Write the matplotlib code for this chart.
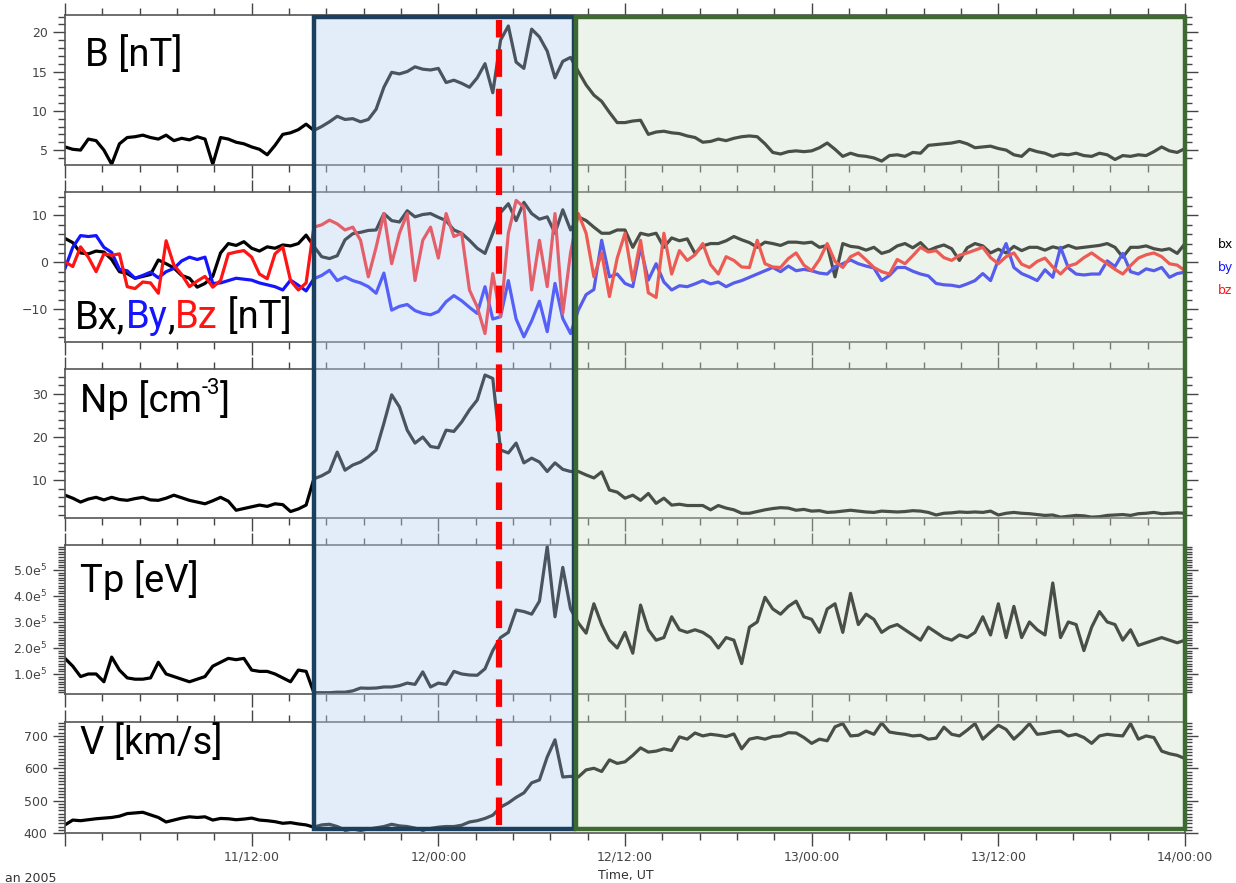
import datetime as dt
import numpy as np
import matplotlib
matplotlib.use("Agg")
import matplotlib.pyplot as plt
import matplotlib.dates as mdates
import matplotlib.ticker as mticker
from matplotlib.patches import Rectangle
from matplotlib.lines import Line2D
from matplotlib.transforms import blended_transform_factory

# hours after 2005-01-11 00:00 UT, 30 min cadence
hours = np.arange(0, 72.5, 0.5)

b_mag = [5.4, 5.1, 5.0, 6.4, 6.2, 5.0, 3.2, 5.8, 6.6, 6.7, 6.9, 6.6,
         6.4, 6.9, 6.2, 6.5, 6.3, 6.7, 6.4, 3.2, 6.6, 6.4, 6.0, 5.8,
         5.4, 5.1, 4.4, 5.6, 7.0, 7.2, 7.6, 8.3, 7.5, 8.0, 8.6, 9.3,
         8.9, 9.0, 8.6, 8.9, 10.2, 13.0, 14.9, 14.7, 15.0, 15.6, 15.3, 15.2,
         15.4, 13.6, 13.9, 13.5, 13.0, 14.2, 16.0, 12.3, 19.0, 20.8, 16.2, 15.4,
         20.4, 19.4, 17.6, 14.2, 16.3, 16.8, 15.0, 13.3, 12.0, 11.2, 9.8, 8.5,
         8.5, 8.7, 8.8, 7.0, 7.3, 7.4, 7.2, 7.1, 6.8, 6.6, 6.0, 6.1,
         6.4, 6.2, 6.5, 6.7, 6.8, 6.7, 5.8, 4.7, 4.5, 4.8, 4.9, 4.8,
         4.9, 5.3, 5.9, 5.1, 4.2, 4.6, 4.3, 4.2, 4.0, 3.6, 4.3, 4.4,
         4.2, 4.7, 4.6, 5.6, 5.7, 5.8, 5.9, 6.1, 5.8, 5.3, 5.4, 5.5,
         5.2, 5.0, 4.4, 4.2, 5.1, 4.8, 4.6, 4.2, 4.5, 4.4, 4.6, 4.3,
         4.2, 4.6, 4.4, 3.8, 4.3, 4.2, 4.4, 4.3, 4.8, 5.4, 4.9, 4.7,
         5.2]

bx = [5.1, 4.2, 2.0, 1.8, 2.4, 2.2, 0.6, -2.0, -2.4, -3.4, -3.0, -2.6,
      0.5, -0.3, -1.2, -2.8, -3.4, -5.3, -4.5, -3.0, 2.0, 4.0, 3.6, 4.4,
      3.0, 2.4, 3.3, 3.0, 3.7, 3.5, 4.0, 5.8, 3.4, 1.2, 0.8, 1.4,
      4.8, 6.1, 6.4, 6.8, 6.9, 10.4, 8.9, 8.6, 11.0, 9.7, 10.2, 10.4,
      9.6, 8.9, 6.9, 6.2, 4.7, 3.0, 1.9, 6.2, 10.6, 12.5, 8.9, 12.8,
      10.4, 9.2, 9.7, 6.2, 11.2, 6.9, 9.7, 8.9, 7.5, 6.2, 6.2, 6.9,
      6.9, 3.2, 6.2, 5.8, 6.2, 3.2, 5.2, 4.6, 5.0, 1.9, 3.5, 4.0,
      4.0, 4.6, 5.5, 4.8, 4.2, 3.2, 4.3, 4.0, 3.6, 4.3, 4.3, 4.1,
      4.3, 3.2, 3.6, -3.1, 4.0, 3.4, 3.2, 2.6, 3.2, 1.9, 2.4, 3.5,
      4.0, 3.1, 4.2, 2.5, 3.2, 3.7, 2.9, 0.4, 3.1, 4.0, 3.5, 2.0,
      2.8, 2.0, 3.4, 2.5, 3.2, 3.2, 2.6, 3.3, 2.9, 3.6, 3.0, 3.2,
      3.4, 3.6, 4.0, 3.2, 1.1, 3.2, 3.2, 3.5, 2.9, 2.6, 2.9, 1.9,
      4.0]

by = [-1.3, 3.2, 5.7, 5.5, 5.7, 3.2, 2.1, -1.5, -1.8, -3.4, -2.8, -2.1,
      -3.3, -2.0, -1.3, 0.3, 1.1, 0.6, 1.1, -4.5, -4.4, -3.9, -3.4, -3.6,
      -3.8, -4.4, -4.8, -5.2, -5.9, -3.8, -4.9, -6.1, -3.5, -2.8, -1.7, -3.9,
      -3.1, -3.9, -4.4, -5.2, -6.6, -2.3, -10.2, -9.4, -9.0, -10.3, -10.9, -11.2,
      -10.5, -8.4, -7.1, -8.2, -9.6, -10.9, -5.2, -12.1, -11.6, -3.9, -12.1, -15.9,
      -12.5, -8.3, -14.8, -4.5, -12.0, -15.2, -10.2, -6.9, -5.8, 4.7, -3.1, -2.5,
      -4.5, -5.2, 3.2, -3.8, -0.3, -4.2, -5.9, -5.0, -5.2, -4.6, -3.9, -4.6,
      -4.2, -5.2, -4.4, -3.9, -3.2, -2.5, -1.8, -1.1, -2.0, -0.8, -1.8, -1.5,
      -1.8, -2.3, -2.5, -0.9, -0.3, 0.5, -0.3, -0.8, -1.2, -3.9, -2.8, -1.1,
      -1.1, -1.9, -2.5, -2.9, -4.5, -4.8, -4.9, -5.2, -4.6, -3.9, -2.4, -3.9,
      0.5, 4.0, -1.1, -2.4, -3.1, -3.9, -1.6, -3.2, 3.2, -1.2, -2.5, -2.7,
      -2.5, -2.5, 0.3, -0.9, 1.9, -2.0, -2.5, -1.4, -1.8, -1.1, -3.2, -2.4,
      -2.1]

bz = [0.1, -0.9, 3.3, 1.1, -2.0, 1.8, 1.5, 1.8, -5.2, -5.6, -4.2, -4.4,
      -6.6, 4.6, -0.6, -2.6, -5.2, -4.0, -3.0, -5.3, -3.9, 1.8, 2.2, 2.5,
      1.1, -2.5, -3.5, 1.8, 3.3, -3.9, -5.9, -4.4, 7.5, 8.0, 9.0, 8.2,
      6.9, 7.5, 4.7, -3.1, 3.2, 10.4, -0.3, 6.2, 10.4, -3.9, 4.7, 7.5,
      0.9, 10.4, 5.5, 6.2, -5.9, -9.5, -15.2, -2.4, -11.6, 6.2, 13.2, 11.8,
      -5.9, 4.7, -5.2, 10.4, -10.9, 2.0, 10.4, 6.2, -3.1, 2.0, -7.3, 0.9,
      6.2, -3.9, 4.7, -6.5, -7.5, 6.2, -2.5, 2.5, 0.4, 1.6, 4.0, -0.5,
      -2.5, 1.2, 0.4, -1.0, -1.1, 4.7, -0.3, -1.0, -1.1, 0.8, 2.0, -0.6,
      -1.8, 0.6, 4.0, 0.2, -1.1, 1.2, 2.0, 0.5, -1.1, -2.0, -2.5, 0.6,
      -0.3, 1.4, 3.2, 2.2, 2.5, 1.0, 0.4, 1.5, 2.0, 2.6, 3.2, 1.0,
      -0.3, 1.2, 2.0, -0.4, -1.1, 0.2, 0.9, -1.0, -2.5, -0.8, -0.3, 1.0,
      2.0, 0.8, -0.3, -1.5, -2.5, -0.7, 0.9, 1.6, 2.0, 1.2, -0.3, -0.6,
      -1.8]

np_dens = [6.5, 5.8, 4.9, 5.6, 6.0, 5.4, 6.0, 5.5, 5.3, 5.7, 6.0, 5.4,
           5.3, 5.8, 6.5, 5.9, 5.3, 4.9, 4.5, 5.2, 6.0, 5.1, 3.0, 3.4,
           3.8, 4.2, 3.9, 4.5, 4.3, 2.7, 3.3, 4.2, 10.3, 11.0, 12.0, 16.5,
           12.3, 13.5, 14.2, 15.4, 17.0, 23.2, 29.8, 27.0, 21.6, 18.6, 20.0, 17.8,
           17.5, 21.6, 21.3, 23.5, 26.3, 28.6, 34.4, 33.6, 17.0, 16.3, 18.6, 14.0,
           15.1, 14.2, 12.0, 14.0, 12.5, 12.0, 12.0, 11.2, 10.5, 11.9, 7.7, 7.2,
           5.8, 6.5, 5.3, 6.9, 4.6, 5.8, 4.2, 4.4, 4.1, 4.1, 4.1, 3.1,
           4.1, 3.5, 3.1, 2.3, 2.3, 2.7, 3.1, 3.4, 3.6, 3.5, 3.0, 3.2,
           2.8, 2.9, 2.5, 2.6, 2.8, 3.0, 2.8, 2.6, 2.5, 2.8, 2.7, 2.6,
           2.7, 2.9, 2.8, 2.5, 1.9, 2.3, 2.4, 2.6, 2.5, 2.6, 2.5, 2.8,
           1.9, 2.3, 2.5, 2.3, 2.2, 2.0, 1.8, 1.9, 1.4, 1.6, 1.8, 1.7,
           1.4, 1.5, 1.8, 1.9, 2.0, 1.8, 2.2, 2.3, 2.5, 2.2, 2.3, 2.4,
           2.3]

# proton temperature in units of 1e5
tp_1e5 = [1.6, 1.3, 0.9, 1.0, 1.0, 0.7, 1.65, 1.15, 0.85, 0.8, 0.8, 0.85,
          1.45, 1.0, 0.9, 0.8, 0.7, 0.8, 0.9, 1.3, 1.45, 1.6, 1.55, 1.6,
          1.15, 1.1, 1.1, 1.0, 0.85, 0.7, 1.15, 1.1, 0.28, 0.28, 0.28, 0.3,
          0.3, 0.35, 0.46, 0.45, 0.46, 0.5, 0.5, 0.55, 0.65, 0.6, 1.08, 0.5,
          0.65, 0.6, 1.1, 1.0, 0.96, 0.95, 1.2, 1.9, 2.4, 2.6, 3.46, 3.4,
          3.3, 3.8, 5.9, 3.2, 5.1, 3.5, 2.96, 2.57, 3.7, 2.9, 2.3, 2.0,
          2.6, 1.8, 3.65, 2.7, 2.3, 2.4, 3.2, 2.7, 2.6, 2.7, 2.6, 2.4,
          2.0, 2.4, 2.3, 1.4, 2.8, 3.0, 3.95, 3.5, 3.3, 3.6, 3.8, 3.2,
          3.1, 2.6, 3.5, 3.7, 2.6, 4.1, 2.9, 3.3, 3.1, 2.6, 2.8, 2.9,
          2.7, 2.5, 2.3, 2.8, 2.6, 2.4, 2.3, 2.5, 2.4, 2.6, 3.2, 2.5,
          3.7, 2.4, 3.6, 2.4, 3.0, 2.7, 2.5, 4.5, 2.4, 3.0, 2.9, 1.9,
          2.8, 3.4, 3.0, 2.9, 2.3, 2.7, 2.1, 2.2, 2.3, 2.4, 2.3, 2.2,
          2.3]

v_sw = [425, 440, 438, 441, 444, 446, 448, 452, 460, 462, 464, 456,
        448, 434, 440, 446, 450, 448, 450, 440, 445, 444, 441, 443,
        446, 440, 438, 435, 430, 432, 428, 425, 418, 425, 427, 420,
        409, 412, 409, 412, 416, 420, 427, 422, 420, 415, 409, 414,
        418, 420, 420, 424, 434, 438, 445, 455, 480, 493, 510, 524,
        555, 564, 635, 688, 573, 575, 573, 595, 600, 590, 626, 615,
        620, 640, 663, 650, 653, 660, 655, 697, 690, 709, 700, 705,
        702, 698, 706, 660, 690, 695, 690, 698, 700, 710, 709, 695,
        677, 690, 685, 728, 738, 700, 702, 715, 705, 740, 712, 708,
        705, 700, 702, 690, 693, 727, 705, 700, 718, 738, 690, 712,
        733, 720, 690, 712, 738, 705, 708, 713, 715, 700, 705, 695,
        677, 700, 705, 702, 700, 738, 690, 700, 695, 653, 645, 640,
        630]

# event intervals (hours after start)
sheath_span = (16.0, 32.75)
ejecta_span = (32.85, 72.0)
shock_hour = 27.9

t0 = mdates.date2num(dt.datetime(2005, 1, 11))
t = t0 + hours / 24.0

W, H = 1236, 883
fig = plt.figure(figsize=(W / 100, H / 100), dpi=100)

panel_px = [(15, 165), (192, 342), (369, 518), (545, 694), (722, 833)]
axes = []
for top, bot in panel_px:
    ax = fig.add_axes([65 / W, 1 - bot / H, 1120 / W, (bot - top) / H])
    axes.append(ax)

tick_col = "#444444"
for i, ax in enumerate(axes):
    ax.set_xlim(t0, t0 + 3)
    ax.xaxis.set_major_locator(mticker.MultipleLocator(0.5))
    ax.xaxis.set_minor_locator(mticker.MultipleLocator(0.1))
    ax.tick_params(axis="both", which="both", direction="out", colors=tick_col,
                   top=True, right=True, labelsize=9, width=1.0)
    ax.tick_params(axis="both", which="major", length=9)
    ax.tick_params(axis="both", which="minor", length=5)
    for s in ax.spines.values():
        s.set_color("#555555")
        s.set_linewidth(1.2)
    if i < 4:
        ax.tick_params(axis="x", labelbottom=False)

def xfmt(v, pos):
    if abs(v - t0) < 1e-6:
        return ""
    return mdates.num2date(v).strftime("%d/%H:%M")

axes[4].xaxis.set_major_formatter(mticker.FuncFormatter(xfmt))

lw = 2.3
ax1, ax2, ax3, ax4, ax5 = axes

ax1.plot(t, b_mag, color="black", lw=lw)
ax1.set_ylim(3.1, 22.2)
ax1.yaxis.set_major_locator(mticker.FixedLocator([5, 10, 15, 20]))
ax1.yaxis.set_minor_locator(mticker.MultipleLocator(1))

ax2.plot(t, bx, color="black", lw=lw)
ax2.plot(t, by, color="#1414ff", lw=lw)
ax2.plot(t, bz, color="#ff1414", lw=lw)
ax2.set_ylim(-17, 15)
ax2.yaxis.set_major_locator(mticker.FixedLocator([-10, 0, 10]))
ax2.yaxis.set_minor_locator(mticker.MultipleLocator(2))

ax3.plot(t, np_dens, color="black", lw=lw)
ax3.set_ylim(1.2, 35.8)
ax3.yaxis.set_major_locator(mticker.FixedLocator([10, 20, 30]))
ax3.yaxis.set_minor_locator(mticker.MultipleLocator(2))

ax4.plot(t, np.array(tp_1e5) * 1e5, color="black", lw=lw)
ax4.set_ylim(0.23e5, 5.96e5)
ax4.yaxis.set_major_locator(mticker.FixedLocator([1e5, 2e5, 3e5, 4e5, 5e5]))
ax4.yaxis.set_minor_locator(mticker.MultipleLocator(0.1e5))
ax4.yaxis.set_major_formatter(
    mticker.FuncFormatter(lambda v, p: f"{v / 1e5:.1f}e$^5$"))

ax5.plot(t, v_sw, color="black", lw=lw)
ax5.set_ylim(400, 743)
ax5.yaxis.set_major_locator(mticker.FixedLocator([400, 500, 600, 700]))
ax5.yaxis.set_minor_locator(mticker.MultipleLocator(10))

# panel titles
font = dict(family="Roboto", fontweight="normal")
fs = 27.5
lab = dict(fontsize=fs, va="center", ha="left", color="black", **font)
ax1.text(0.018, 0.73, "B [nT]", transform=ax1.transAxes, **lab)
ax4.text(0.013, 0.765, "Tp [eV]", transform=ax4.transAxes, **lab)
ax5.text(0.013, 0.81, "V [km/s]", transform=ax5.transAxes, **lab)

np_lab = ax3.text(0.013, 0.79, "Np [cm", transform=ax3.transAxes, **lab)
np_sup = ax3.annotate("-3", xycoords=np_lab, xy=(1.0, 0.52), va="bottom",
                      ha="left", fontsize=16, color="black", **font)
ax3.annotate("]", xycoords=(np_sup, np_lab), xy=(1.0, 0.0), va="bottom",
             ha="left", fontsize=fs, color="black", **font)

pieces = [("Bx,", "black"), ("By", "#1414ff"), (",", "black"),
          ("Bz", "#ff1414"), (" [nT]", "black")]
prev = ax2.text(0.009, 0.16, pieces[0][0], transform=ax2.transAxes,
                **{**lab, "color": pieces[0][1]})
for s, c in pieces[1:]:
    prev = ax2.annotate(s, xycoords=prev, xy=(1, 0), va="bottom", ha="left",
                        fontsize=fs, color=c, **font)

# component legend
for j, (s, c) in enumerate([("bx", "black"), ("by", "#1414ff"), ("bz", "#ff1414")]):
    fig.text(1218 / W, 1 - (245 + 22.5 * j) / H, s, color=c, fontsize=9,
             va="center", ha="left")

fig.text(5 / W, 1 - 878 / H, "an 2005", fontsize=9, color="#333333",
         va="center", ha="left")
fig.text(598 / W, 1 - 875 / H, "Time, UT", fontsize=9, color="#333333",
         va="center", ha="left")

# shaded intervals and shock marker, drawn over every panel
trans = blended_transform_factory(ax5.transData, fig.transFigure)
y0, y1 = 1 - 829 / H, 1 - 17 / H
for (h0, h1), fc, a, ec in [(sheath_span, "#b9d4f0", 0.40, "#1b3f5e"),
                            (ejecta_span, "#cddec8", 0.36, "#3d6b2f")]:
    x0 = t0 + h0 / 24
    x1 = t0 + h1 / 24
    fig.patches.append(Rectangle((x0, y0), x1 - x0, y1 - y0, transform=trans,
                                 facecolor=fc, alpha=a, edgecolor="none",
                                 zorder=5))
    fig.patches.append(Rectangle((x0, y0), x1 - x0, y1 - y0, transform=trans,
                                 facecolor="none", edgecolor=ec, lw=3.2,
                                 zorder=6))

xs = t0 + shock_hour / 24
fig.lines.append(Line2D([xs, xs], [1 - 825 / H, 1 - 20 / H], transform=trans,
                        color="#ff0000", lw=4.5, dashes=(4.4, 1.9),
                        zorder=7))

fig.savefig("out.png", dpi=100)
